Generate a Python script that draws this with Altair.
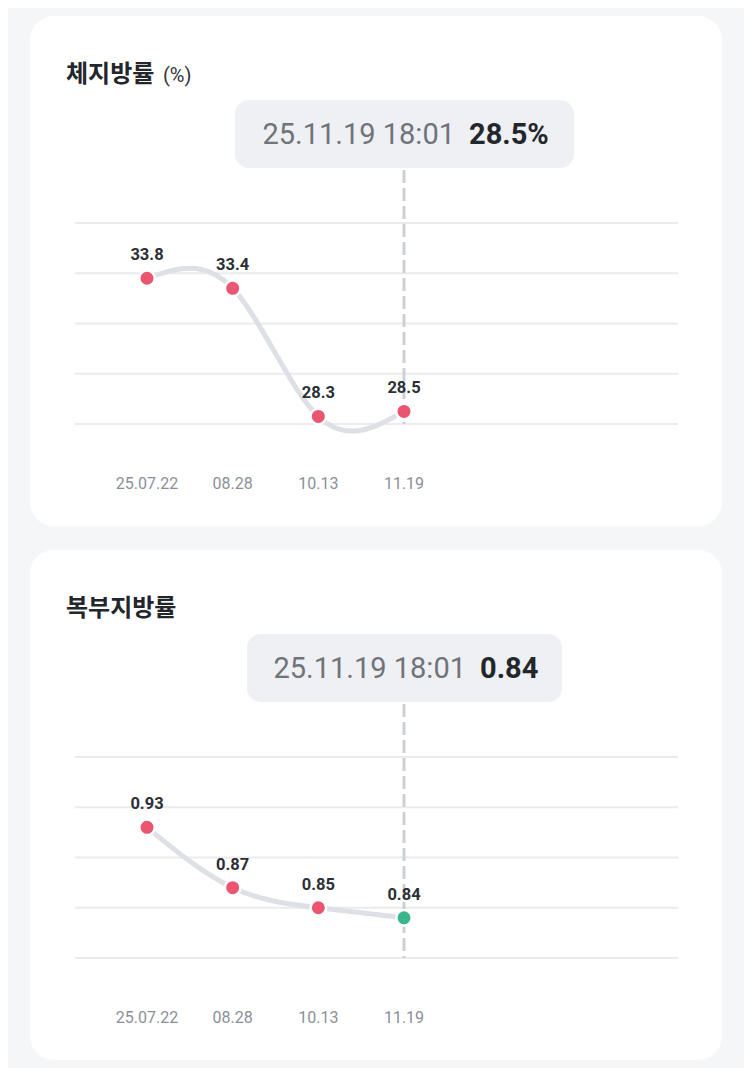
import altair as alt
import pandas as pd

# ---- data ----
DATES = ["25.07.22", "08.28", "10.13", "11.19"]
FAT_RATE = [33.8, 33.4, 28.3, 28.5]
FAT_STATUS = ["high", "high", "high", "high"]
ABD_RATIO = [0.93, 0.87, 0.85, 0.84]
ABD_STATUS = ["high", "high", "high", "normal"]
FAT_GRID = [28, 30, 32, 34, 36]
ABD_GRID = [0.80, 0.85, 0.90, 0.95, 1.00]
TIMESTAMP = "25.11.19 18:01"
FAT_TIP = "28.5%"
ABD_TIP = "0.84"

STATUS_DOMAIN = ["high", "normal"]
STATUS_COLORS = ["#ea5570", "#3db58c"]

FONT = "Roboto"
KFONT = "Noto Sans CJK KR"


def panel(title, unit, values, status, grid, fmt, tip_value, box, tip_end):
    df = pd.DataFrame({
        "date": DATES,
        "value": values,
        "status": status,
        "label": [format(v, fmt) for v in values],
    })
    last = df.tail(1)
    gdf = pd.DataFrame({"value": grid})
    xs = alt.Scale(type="point", domain=DATES, range=[117, 374], padding=0)
    ys = alt.Scale(domain=[grid[0], grid[-1]], range=[408, 207], zero=False, nice=False)
    x = alt.X("date:N", sort=DATES, scale=xs, axis=None)
    y = alt.Y("value:Q", scale=ys, axis=None)

    one = pd.DataFrame({"title": [title], "unit": [unit], "ts": [TIMESTAMP], "tip": [tip_value]})

    grid_l = alt.Chart(gdf).mark_rule(color="#e9ebee", strokeWidth=2).encode(
        y=y, x=alt.value(45), x2=alt.value(648))
    dash_l = alt.Chart(last).mark_rule(color="#cdd0d4", strokeWidth=3, strokeDash=[13, 5]).encode(
        x=x, y=alt.value(154), y2=alt.value(408))
    line_l = alt.Chart(df).mark_line(interpolate="natural", color="#dde0e5", strokeWidth=5,
                                     strokeCap="round").encode(x=x, y=y)
    pts_l = alt.Chart(df).mark_point(filled=True, size=240, stroke="white", strokeWidth=2.5,
                                     opacity=1).encode(
        x=x, y=y,
        fill=alt.Fill("status:N", scale=alt.Scale(domain=STATUS_DOMAIN, range=STATUS_COLORS), legend=None))
    lab_l = alt.Chart(df).mark_text(font=FONT, fontSize=16.5, fontWeight="bold", color="#2b2f36",
                                    baseline="alphabetic", dy=-18).encode(x=x, y=y, text="label:N")
    xlab_l = alt.Chart(df).mark_text(font=FONT, fontSize=16, color="#8a9099", baseline="middle").encode(
        x=x, y=alt.value(468), text="date:N")

    title_l = alt.Chart(one).mark_text(font=KFONT, fontSize=24, fontWeight="bold", color="#23262b",
                                       align="left", baseline="alphabetic").encode(
        x=alt.value(36), y=alt.value(66), text="title:N")
    layers = [grid_l, dash_l, line_l, pts_l, lab_l, xlab_l, title_l]
    if unit:
        unit_l = alt.Chart(one).mark_text(font=FONT, fontSize=20, color="#33363b",
                                          align="left", baseline="alphabetic").encode(
            x=alt.value(133), y=alt.value(66), text="unit:N")
        layers.append(unit_l)

    box_l = alt.Chart(one).mark_rect(color="#eef0f3", cornerRadius=14).encode(
        x=alt.value(box[0]), x2=alt.value(box[1]), y=alt.value(84), y2=alt.value(152))
    ts_l = alt.Chart(one).mark_text(font=FONT, fontSize=29, color="#6f737a", align="right",
                                    baseline="middle").encode(
        x=alt.value(tip_end), y=alt.value(119), text="ts:N")
    tip_l = alt.Chart(one).mark_text(font=FONT, fontSize=29, fontWeight="bold", color="#23262b",
                                     align="left", baseline="middle").encode(
        x=alt.value(tip_end + 14), y=alt.value(119), text="tip:N")
    layers += [box_l, ts_l, tip_l]

    return alt.layer(*layers).properties(width=692, height=510)


p1 = panel("체지방률", "(%)", FAT_RATE, FAT_STATUS, FAT_GRID, ".1f", FAT_TIP, (205, 544), 425)
p2 = panel("복부지방률", "", ABD_RATIO, ABD_STATUS, ABD_GRID, ".2f", ABD_TIP, (217, 532), 436)

chart = alt.vconcat(p1, p2, spacing=24).properties(
    padding={"left": 22, "top": 8, "right": 22, "bottom": 8},
    background="#f5f6f8",
).configure_view(fill="white", strokeWidth=0, cornerRadius=24)

chart.save("out.html", embed_options={"renderer": "svg", "actions": False})
